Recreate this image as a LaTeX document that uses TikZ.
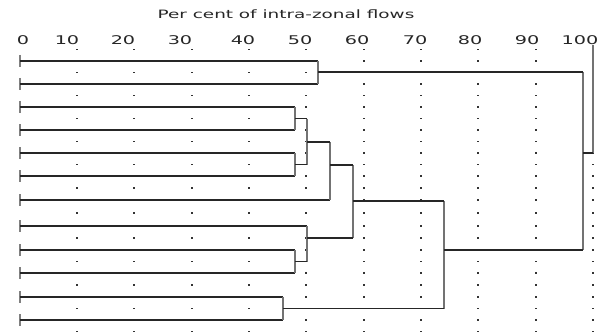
\documentclass[tikz,border=0pt]{standalone}
\usepackage{fontspec}
\setmainfont{DejaVu Sans}
\usepackage{graphicx}
\usepackage{tikz}
\usetikzlibrary{positioning, calc}
\newcommand{\widetxt}[1]{\scalebox{1.6}[1]{#1}}

\begin{document}
\begin{tikzpicture}[x=1pt, y=-1pt,
  hline/.style={line width=1.1pt, black!85},
  vline/.style={line width=1.6pt, black!55},
  leaftick/.style={line width=1.6pt, black!50},
  axislbl/.style={inner sep=0pt, font=\fontsize{12}{14}\selectfont, text=black!85},
  titlelbl/.style={inner sep=0pt, font=\fontsize{11.5}{14}\selectfont, text=black!85}]
  \useasboundingbox (0,0) rectangle (604,334);
  % Title and scale
  \node[titlelbl] (title) at (286,14) {\widetxt{Per cent of intra-zonal flows}};
  \foreach \v/\x in {0/23,10/67,20/123,30/180,40/243,50/300,60/357,70/415,80/470,90/527,100/580}
    \node[axislbl] (v\v) at (\x,40) {\widetxt{\v}};
  % Dot grid
  \foreach \i in {1,...,10}
    \foreach \y in {49.5,61,72.5,84,95.5,107,118.5,130,141.5,153,164.5,176,188,200,213,226,238,250,261.5,273,285,297,308.5,320,331.5}
      \fill[black!80] ({19.7+57.33*\i-1},\y-0.7) rectangle ({19.7+57.33*\i+1},\y+0.7);
  % Leaves
  \foreach \y [count=\i] in {61,84,107,130,153,176,200,226,250,273,297,320}
    \coordinate (l\i) at (19.7,\y);
  % Merge points (x = level, y = outgoing line)
  \coordinate (mA) at (318,72);
  \coordinate (mB) at (295,118.5);
  \coordinate (mC) at (295,164.5);
  \coordinate (mD) at (307,142);
  \coordinate (mE) at (330,165);
  \coordinate (mF) at (295,261.5);
  \coordinate (mG) at (307,238);
  \coordinate (mH) at (353,201);
  \coordinate (mI) at (283,308.5);
  \coordinate (mJ) at (444,250);
  \coordinate (mK) at (583,153);
  \coordinate (top) at (593,45);
  % Leaf lines
  \foreach \l/\m in {1/A,2/A,3/B,4/B,5/C,6/C,7/E,8/G,9/F,10/F,11/I,12/I} {
    \draw[leaftick] ($(l\l)+(0,-6)$) -- ($(l\l)+(0,6)$);
    \draw[hline] (l\l) -- (l\l -| m\m);
  }
  % Verticals
  \draw[vline] (mA |- l1) -- (mA |- l2);
  \draw[vline] (mB |- l3) -- (mB |- l4);
  \draw[vline] (mC |- l5) -- (mC |- l6);
  \draw[vline] (mD |- mB) -- (mD |- mC);
  \draw[vline] (mE |- mD) -- (mE |- l7);
  \draw[vline] (mF |- l9) -- (mF |- l10);
  \draw[vline] (mG |- l8) -- (mG |- mF);
  \draw[vline] (mH |- mE) -- (mH |- mG);
  \draw[vline] (mI |- l11) -- (mI |- l12);
  \draw[vline] (mJ |- mH) -- (mJ |- mI);
  \draw[vline] (mK |- mA) -- (mK |- mJ);
  \draw[vline] (top) -- (top |- mK);
  % Joins
  \draw[hline] (mA) -- (mA -| mK);
  \draw[hline] (mB) -- (mB -| mD);
  \draw[hline] (mC) -- (mC -| mD);
  \draw[hline] (mD) -- (mD -| mE);
  \draw[hline] (mE) -- (mE -| mH);
  \draw[hline] (mF) -- (mF -| mG);
  \draw[hline] (mG) -- (mG -| mH);
  \draw[hline] (mH) -- (mH -| mJ);
  \draw[hline] (mI) -- (mI -| mJ);
  \draw[hline] (mJ) -- (mJ -| mK);
  \draw[hline] (mK) -- (mK -| top);
\end{tikzpicture}
\end{document}
